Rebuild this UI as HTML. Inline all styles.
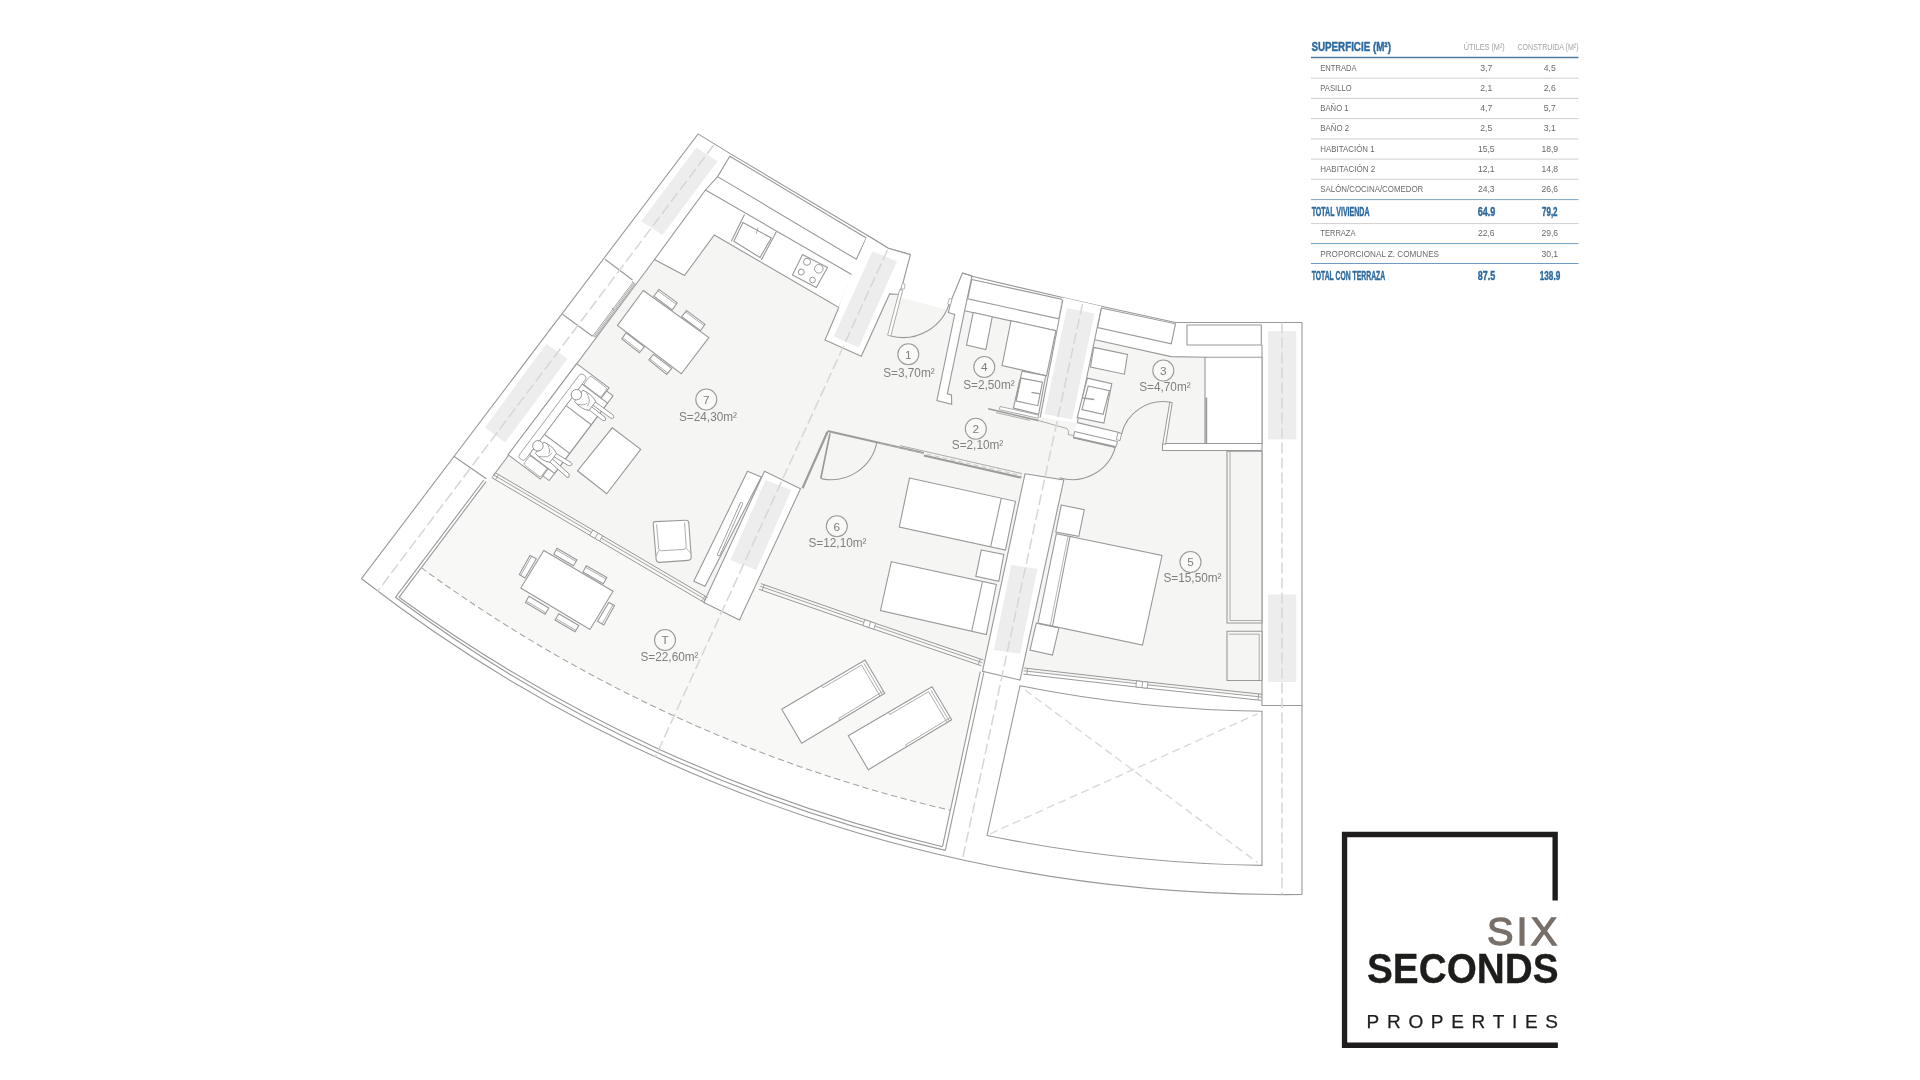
<!DOCTYPE html>
<html lang="es">
<head>
<meta charset="utf-8">
<title>Plano vivienda - Six Seconds Properties</title>
<style>
html,body{margin:0;padding:0;background:#fff;}
body{width:1920px;height:1080px;overflow:hidden;position:relative;font-family:"Liberation Sans",sans-serif;}
svg{position:absolute;left:0;top:0;display:block;will-change:transform;}
svg text{font-family:"Liberation Sans",sans-serif;}
</style>
</head>
<body>
<svg width="1920" height="1080" viewBox="0 0 1920 1080">
<g id="plan" stroke-linejoin="miter">
<polygon points="705.5,190.0 852.5,275.0 903.3,298.3 948.3,310.0 964.6,310.8 1056.0,330.8 1095.0,339.8 1171.0,356.6 1205.0,357.2 1262.0,357.2 1262.0,697.5 1141.3,684.3 1023.8,671.0 1020.0,680.0 982.5,671.3 982.5,661.5 868.8,622.8 760.0,585.0 706.3,600.0 493.8,475.0" fill="#f5f5f3" stroke="none" stroke-width="1.1" />
<path d="M493.8,475.0 L706.3,600.0 L760.0,585.0 L868.8,622.8 L982.5,661.5 L982.5,671.3 L980.3,671.7 L950.3,810.3 A1460.0,1460.0 0 0 1 421.2,567.7 L486.0,481.7 Z" fill="#f8f8f7" stroke="none" stroke-width="1.1" />
<polygon points="1162.5,443.5 1262.0,443.5 1262.0,450.5 1162.5,450.5" fill="#fff" stroke="none" stroke-width="1.1" />
<polyline points="361.5,578.7 698.1,133.9 730.6,153.9" fill="none" stroke="#999999" stroke-width="1.1" />
<polyline points="717.6,176.6 705.5,190.0" fill="none" stroke="#999999" stroke-width="1.1" />
<polyline points="654.5,259.5 493.8,475.0" fill="none" stroke="#999999" stroke-width="1.1" />
<polyline points="605.0,259.3 632.5,280.0" fill="none" stroke="#999999" stroke-width="1.1" />
<polyline points="562.5,314.3 592.5,336.3" fill="none" stroke="#999999" stroke-width="1.1" />
<polyline points="453.8,456.3 486.3,478.8" fill="none" stroke="#999999" stroke-width="1.1" />
<polyline points="633.0,282.1 593.0,335.8" fill="none" stroke="#999999" stroke-width="0.85" />
<polyline points="634.1,282.9 594.1,336.6" fill="none" stroke="#999999" stroke-width="0.85" />
<polyline points="635.1,283.6 595.1,337.3" fill="none" stroke="#999999" stroke-width="0.85" />
<polyline points="632.0,281.3 634.6,283.3" fill="none" stroke="#999999" stroke-width="0.7" />
<polyline points="592.0,335.0 594.6,337.0" fill="none" stroke="#999999" stroke-width="0.7" />
<polyline points="612.0,308.2 614.6,310.2" fill="none" stroke="#999999" stroke-width="0.7" />
<polygon points="696.3,147.5 717.5,161.3 662.5,235.0 641.3,221.3" fill="#ededed" stroke="none" stroke-width="1.1" />
<polygon points="546.3,343.8 567.5,358.8 505.0,442.5 485.0,427.5" fill="#ededed" stroke="none" stroke-width="1.1" />
<polyline points="730.6,153.9 866.8,235.0 888.3,248.3 910.4,254.6" fill="none" stroke="#999999" stroke-width="1.1" />
<polygon points="729.8,156.2 866.3,238.0 856.3,259.3 717.6,176.6" fill="#fff" stroke="#999999" stroke-width="1.1" />
<polygon points="705.5,190.0 852.5,275.0 838.8,307.5 714.3,235.0 684.5,275.5 654.5,259.5" fill="#fff" stroke="#999999" stroke-width="1.1" />
<polyline points="744.5,214.5 731.3,241.3" fill="none" stroke="#999999" stroke-width="1.1" />
<polyline points="776.3,231.8 761.3,260.0" fill="none" stroke="#999999" stroke-width="1.1" />
<polygon points="743.0,222.5 771.3,238.0 760.0,257.5 733.8,241.3" fill="#fff" stroke="#999999" stroke-width="1.1" />
<polyline points="758.0,227.5 756.3,233.8" fill="none" stroke="#999999" stroke-width="0.8" />
<polygon points="802.5,254.5 827.5,267.5 816.3,287.5 792.5,275.0" fill="#fff" stroke="#999999" stroke-width="1.1" />
<circle cx="807.0" cy="261.8" r="3.5" fill="none" stroke="#999999" stroke-width="1.0"/>
<circle cx="818.8" cy="268.8" r="4.3" fill="none" stroke="#999999" stroke-width="1.0"/>
<circle cx="801.3" cy="272.0" r="3.0" fill="none" stroke="#999999" stroke-width="1.0"/>
<circle cx="812.5" cy="280.0" r="2.8" fill="none" stroke="#999999" stroke-width="1.0"/>
<polygon points="866.3,238.0 866.8,235.0 888.3,248.3 910.4,254.6 902.4,285.0 899.6,294.5 889.6,293.9 861.3,356.3 825.0,340.0" fill="#fff" stroke="none" stroke-width="1.1" />
<polyline points="866.8,235.0 888.3,248.3 910.4,254.6 902.4,285.0 899.6,294.5 889.6,293.9 861.3,356.3 825.0,340.0 838.8,307.5" fill="none" stroke="#999999" stroke-width="1.1" />
<polygon points="872.5,251.3 897.0,261.3 858.8,347.5 833.8,336.3" fill="#ededed" stroke="none" stroke-width="1.1" />
<polygon points="899.7,289.5 902.7,290.3 890.8,336.0 887.6,335.2" fill="#fff" stroke="#999999" stroke-width="0.8" />
<path d="M890.8,336 A48.5,48.5 0 0 0 950,300.8" fill="none" stroke="#999999" stroke-width="1.1" />
<polygon points="902.5,283.3 905.0,284.2 904.2,289.2 900.8,288.7" fill="#fff" stroke="#999999" stroke-width="0.7" />
<polygon points="962.5,273.0 972.0,275.8 964.6,310.8 947.3,393.9 951.5,395.0 951.7,404.2 936.9,400.6 954.7,314.5 948.3,312.5 951.7,299.2" fill="#fff" stroke="#999999" stroke-width="1.1" />
<polygon points="949.2,298.5 952.0,299.3 950.5,305.0 947.7,304.2" fill="#fff" stroke="#999999" stroke-width="0.7" />
<polyline points="962.5,273.0 971.8,276.3 1062.5,297.5 1101.3,306.3 1175.5,322.5 1185.0,322.5 1302.0,322.5" fill="none" stroke="#999999" stroke-width="1.1" />
<polygon points="971.8,279.5 1062.5,299.5 1058.8,318.8 967.7,298.8" fill="#fff" stroke="#999999" stroke-width="1.1" />
<polygon points="1101.3,308.0 1175.5,323.8 1171.3,343.8 1097.5,327.5" fill="#fff" stroke="#999999" stroke-width="1.1" />
<polygon points="1187.0,325.0 1261.3,325.0 1261.3,345.0 1187.0,345.0" fill="#fff" stroke="#999999" stroke-width="1.1" />
<polyline points="964.6,310.8 1056.0,330.8" fill="none" stroke="#999999" stroke-width="1.1" />
<polyline points="1095.0,339.8 1171.0,356.6 1205.0,357.2" fill="none" stroke="#999999" stroke-width="1.1" />
<polyline points="1175.5,322.5 1171.0,356.6" fill="none" stroke="none" stroke-width="1.1" />
<polygon points="1062.5,297.5 1101.3,306.3 1077.2,423.0 1040.2,417.5" fill="#fff" stroke="none" stroke-width="1.1" />
<polyline points="1062.9,299.5 1040.2,417.5" fill="none" stroke="#999999" stroke-width="1.1" />
<polyline points="1101.3,308.0 1077.2,423.0" fill="none" stroke="#999999" stroke-width="1.1" />
<polygon points="1066.9,308.1 1094.5,313.5 1072.2,419.5 1044.6,414.0" fill="#ededed" stroke="none" stroke-width="1.1" />
<polyline points="1302.0,322.5 1302.0,894.5" fill="none" stroke="#999999" stroke-width="1.1" />
<polyline points="1262.0,345.0 1262.0,705.5 1302.0,705.5" fill="none" stroke="#999999" stroke-width="1.1" />
<polygon points="1268.0,331.3 1296.3,331.3 1296.3,439.5 1268.0,439.5" fill="#ededed" stroke="none" stroke-width="1.1" />
<polygon points="1268.0,594.5 1296.3,594.5 1296.3,682.0 1268.0,682.0" fill="#ededed" stroke="none" stroke-width="1.1" />
<polygon points="973.3,312.5 992.2,316.8 985.9,349.5 966.5,345.1" fill="#fff" stroke="#999999" stroke-width="1.1" />
<polygon points="1011.0,320.7 1055.9,330.6 1046.5,375.8 1002.1,365.5" fill="#fff" stroke="#999999" stroke-width="1.1" />
<polygon points="1022.1,371.1 1045.7,375.8 1038.6,414.3 1013.4,408.0" fill="#fff" stroke="#999999" stroke-width="1.1" />
<polygon points="1021.0,378.1 1042.5,382.1 1037.8,405.7 1016.2,401.0" fill="#fff" stroke="#999999" stroke-width="1.1" />
<polyline points="1031.5,392.3 1040.2,393.9" fill="none" stroke="#9c9c9c" stroke-width="1.3" />
<polyline points="1020.0,379.7 1015.8,400.2" fill="none" stroke="#9c9c9c" stroke-width="1.6" />
<polygon points="1000.0,406.5 1038.6,415.1 1038.0,418.2 999.3,409.6" fill="#fff" stroke="#999999" stroke-width="0.8" />
<polyline points="988.2,408.8 1038.6,420.6" fill="none" stroke="#9c9c9c" stroke-width="1.6" />
<polyline points="996.0,412.6 1030.0,420.4" fill="none" stroke="#999999" stroke-width="0.8" />
<polyline points="1038.6,420.6 1066.9,428.5 1068.7,431.3 1068.2,434.5 1073.5,435.5" fill="none" stroke="#999999" stroke-width="0.8" />
<polygon points="1093.7,347.4 1127.5,354.5 1124.4,374.2 1090.5,367.1" fill="#fff" stroke="#999999" stroke-width="1.1" />
<polygon points="1087.4,378.1 1111.8,383.6 1103.9,423.0 1077.2,417.5" fill="#fff" stroke="#999999" stroke-width="1.1" />
<polygon points="1088.2,386.0 1109.4,390.7 1103.1,414.3 1081.9,409.6" fill="#fff" stroke="#999999" stroke-width="1.1" />
<polyline points="1082.6,398.0 1094.4,399.5" fill="none" stroke="#9c9c9c" stroke-width="1.3" />
<polygon points="1077.4,422.6 1120.2,432.8 1117.8,441.5 1074.5,431.3" fill="#fff" stroke="none" stroke-width="1.1" />
<polyline points="1077.4,422.6 1120.2,432.8" fill="none" stroke="#999999" stroke-width="1.1" />
<polygon points="1117.9,432.6 1121.6,433.6 1120.0,440.6 1116.4,439.7" fill="#fff" stroke="#999999" stroke-width="0.9" />
<polygon points="1074.6,431.5 1117.6,441.6 1115.6,447.4 1073.4,437.8" fill="#fff" stroke="#999999" stroke-width="1.0" />
<polyline points="1073.2,437.4 1115.4,447.0" fill="none" stroke="#9c9c9c" stroke-width="1.8" />
<polygon points="1169.8,402.2 1172.2,402.7 1165.6,444.3 1162.8,443.9" fill="#fff" stroke="#999999" stroke-width="1.0" />
<path d="M1170.6,402.3 A42.8,42.8 0 0 0 1121.4,434.6" fill="none" stroke="#999999" stroke-width="1.1" />
<polyline points="1166.0,443.5 1262.0,443.5" fill="none" stroke="#999999" stroke-width="1.1" />
<polyline points="1162.5,443.5 1162.5,450.5 1262.0,450.5" fill="none" stroke="#999999" stroke-width="1.1" />
<polygon points="1205.0,357.2 1262.0,357.2 1262.0,443.5 1205.0,443.5" fill="#fff" stroke="#999999" stroke-width="1.1" />
<polyline points="1206.3,397.5 1206.3,443.5" fill="none" stroke="#9c9c9c" stroke-width="1.8" />
<path d="M1115.4,446.8 A44.5,44.5 0 0 1 1059.6,477.7" fill="none" stroke="#999999" stroke-width="1.1" />
<polyline points="1059.5,478.8 1059.0,481.5" fill="none" stroke="#999999" stroke-width="0.8" />
<polyline points="827.5,431.0 923.8,453.0" fill="none" stroke="#9c9c9c" stroke-width="2.1" />
<polyline points="923.8,455.6 1021.3,477.6" fill="none" stroke="#9c9c9c" stroke-width="2.1" />
<polyline points="900.0,445.6 1022.0,473.6" fill="none" stroke="#999999" stroke-width="0.8" />
<polyline points="880.0,443.5 1021.5,475.5" fill="none" stroke="#bdbdbd" stroke-width="0.8" stroke-dasharray="5 3"/>
<polyline points="827.5,431.7 802.5,488.3" fill="none" stroke="#9c9c9c" stroke-width="2.2" />
<polyline points="830.0,433.3 820.8,478.3" fill="none" stroke="#999999" stroke-width="1.7" />
<path d="M821.2,478.6 A46.5,46.5 0 0 0 876.7,443.2" fill="none" stroke="#999999" stroke-width="1.1" />
<polygon points="747.5,471.3 761.3,477.0 705.0,586.3 693.8,581.3" fill="#fff" stroke="#999999" stroke-width="1.1" />
<path d="M741.3,503.8 L718.8,554.5" fill="none" stroke="#999999" stroke-width="3.4" stroke-linecap="round"/>
<path d="M741.3,503.8 L718.8,554.5" fill="none" stroke="#fff" stroke-width="1.8" stroke-linecap="round"/>
<polygon points="764.5,471.3 800.5,488.8 739.5,620.0 703.8,602.5" fill="#fff" stroke="#999999" stroke-width="1.1" />
<polygon points="765.5,480.0 791.3,490.0 756.3,570.0 730.5,560.0" fill="#ededed" stroke="none" stroke-width="1.1" />
<polygon points="1025.0,473.8 1063.8,480.0 1020.0,680.0 982.5,671.3" fill="#fff" stroke="#999999" stroke-width="1.1" />
<polygon points="1011.3,565.0 1037.5,568.8 1020.0,653.8 993.8,650.0" fill="#ededed" stroke="none" stroke-width="1.1" />
<polyline points="495.2,472.6 707.7,597.6" fill="none" stroke="#999999" stroke-width="1.0" />
<polyline points="493.8,475.0 706.3,600.0" fill="none" stroke="#999999" stroke-width="0.9" />
<polyline points="492.1,477.8 704.6,602.8" fill="none" stroke="#999999" stroke-width="1.0" />
<polygon points="592.8,530.0 602.6,535.8 599.5,541.0 589.7,535.3" fill="#fff" stroke="#999999" stroke-width="0.9" />
<polyline points="598.1,533.1 595.0,538.3" fill="none" stroke="#999999" stroke-width="0.9" />
<polyline points="495.2,472.6 492.1,477.8" fill="none" stroke="#999999" stroke-width="0.9" />
<polyline points="498.6,474.6 495.5,479.8" fill="none" stroke="#999999" stroke-width="0.9" />
<polyline points="705.0,596.0 701.9,601.2" fill="none" stroke="#999999" stroke-width="0.9" />
<polyline points="760.9,583.6 869.7,621.4 983.4,660.0" fill="none" stroke="#999999" stroke-width="1.0" />
<polyline points="760.0,586.2 868.8,624.0 982.5,662.7" fill="none" stroke="#999999" stroke-width="0.9" />
<polyline points="758.9,589.3 867.7,627.1 981.4,665.8" fill="none" stroke="#999999" stroke-width="1.0" />
<polygon points="864.9,619.7 875.7,623.4 873.7,629.2 862.9,625.5" fill="#fff" stroke="#999999" stroke-width="0.9" />
<polyline points="870.7,621.7 868.7,627.4" fill="none" stroke="#999999" stroke-width="0.9" />
<polyline points="764.2,584.7 762.2,590.4" fill="none" stroke="#999999" stroke-width="0.9" />
<polyline points="980.2,659.0 978.2,664.7" fill="none" stroke="#999999" stroke-width="0.9" />
<polyline points="1024.1,668.0 1141.6,681.4 1262.3,694.3" fill="none" stroke="#999999" stroke-width="1.0" />
<polyline points="1023.8,670.8 1141.3,684.2 1262.0,697.1" fill="none" stroke="#999999" stroke-width="0.9" />
<polyline points="1023.4,674.1 1140.9,687.5 1261.6,700.4" fill="none" stroke="#999999" stroke-width="1.0" />
<polygon points="1136.5,680.9 1147.9,682.1 1147.2,688.2 1135.9,687.0" fill="#fff" stroke="#999999" stroke-width="0.9" />
<polyline points="1142.6,681.6 1141.9,687.6" fill="none" stroke="#999999" stroke-width="0.9" />
<polyline points="1027.5,668.4 1026.8,674.5" fill="none" stroke="#999999" stroke-width="0.9" />
<polyline points="1258.7,693.9 1258.0,700.0" fill="none" stroke="#999999" stroke-width="0.9" />
<polyline points="483.8,480.0 395.4,597.3" fill="none" stroke="#999999" stroke-width="1.1" />
<polyline points="486.0,481.7 399.0,597.3" fill="none" stroke="#999999" stroke-width="1.1" />
<path d="M395.4,597.3 A1469.1,1469.1 0 0 0 945.3,850.4" fill="none" stroke="#999999" stroke-width="1.1" />
<path d="M399.0,597.3 A1525.8,1525.8 0 0 0 942.5,846.7" fill="none" stroke="#999999" stroke-width="1.1" />
<polyline points="983.8,672.5 945.3,850.4" fill="none" stroke="#999999" stroke-width="1.1" />
<polyline points="980.3,671.7 942.5,846.7" fill="none" stroke="#999999" stroke-width="1.1" />
<path d="M361.5,578.7 A1507.8,1507.8 0 0 0 1302.0,894.5" fill="none" stroke="#999999" stroke-width="1.1" />
<path d="M421.2,567.7 A1460.0,1460.0 0 0 0 950.3,810.3" fill="none" stroke="#a4a4a4" stroke-width="1.05" stroke-dasharray="6.3 3.6"/>
<path d="M1020,685.8 A1323.0,1323.0 0 0 0 1262.0,711.3 L1262.0,865.4 A1477.0,1477.0 0 0 1 987,835.5 Z" fill="#fff" stroke="#999999" stroke-width="1.1" />
<polyline points="1025.0,690.0 1257.5,862.5" fill="none" stroke="#d9d9d9" stroke-width="1.4" stroke-dasharray="8 4.5"/>
<polyline points="990.0,833.8 1257.5,713.8" fill="none" stroke="#d9d9d9" stroke-width="1.4" stroke-dasharray="8 4.5"/>
<polyline points="713.8,145.0 377.3,591.7" fill="none" stroke="#d6d6d6" stroke-width="1.5" stroke-dasharray="11 4"/>
<polyline points="887.5,250.0 655.2,757.3" fill="none" stroke="#d6d6d6" stroke-width="1.5" stroke-dasharray="11 4"/>
<polyline points="1082.5,303.8 962.3,859.9" fill="none" stroke="#d6d6d6" stroke-width="1.5" stroke-dasharray="11 4"/>
<polyline points="1282.0,322.5 1282.0,894.6" fill="none" stroke="#d6d6d6" stroke-width="1.5" stroke-dasharray="11 4"/>
<polygon points="658.9,289.4 677.2,302.8 672.2,310.0 653.9,296.1" fill="#fff" stroke="#999999" stroke-width="1.1" />
<polyline points="657.9,290.8 676.2,304.3" fill="none" stroke="#999999" stroke-width="0.8" />
<polygon points="686.7,310.6 705.0,324.4 700.6,330.6 681.7,316.7" fill="#fff" stroke="#999999" stroke-width="1.1" />
<polyline points="685.6,311.9 704.1,325.7" fill="none" stroke="#999999" stroke-width="0.8" />
<polygon points="626.1,332.8 644.4,346.7 639.4,352.8 621.7,338.9" fill="#fff" stroke="#999999" stroke-width="1.1" />
<polyline points="640.5,351.5 622.6,337.6" fill="none" stroke="#999999" stroke-width="0.8" />
<polygon points="653.3,354.4 671.7,368.3 666.7,374.4 648.9,360.0" fill="#fff" stroke="#999999" stroke-width="1.1" />
<polyline points="667.8,373.1 649.8,358.8" fill="none" stroke="#999999" stroke-width="0.8" />
<polygon points="643.3,290.5 708.8,337.5 681.3,373.8 617.5,325.5" fill="#fff" stroke="#999999" stroke-width="1.1" />
<polygon points="587.1,376.4 613.0,395.9 549.2,480.6 523.3,461.1" fill="#fff" stroke="#999999" stroke-width="1.1" />
<polygon points="576.7,363.6 609.0,387.9 540.4,479.0 508.1,454.7" fill="#fff" stroke="#999999" stroke-width="1.1" />
<polyline points="582.2,384.0 601.1,398.3" fill="none" stroke="#999999" stroke-width="1.1" />
<polyline points="529.3,454.3 548.2,468.6" fill="none" stroke="#999999" stroke-width="1.1" />
<polygon points="582.2,384.0 607.5,403.1 554.6,473.4 529.3,454.3" fill="#fff" stroke="#999999" stroke-width="1.1" />
<polyline points="566.0,405.6 591.3,424.7" fill="none" stroke="#999999" stroke-width="1.1" />
<polyline points="544.3,434.3 569.6,453.4" fill="none" stroke="#999999" stroke-width="1.1" />
<path d="M579.2,375.2 L519.5,454.5 Q517.7,456.9 520.1,458.7 L521.5,459.7 Q523.9,461.5 525.7,459.1 L585.3,379.9 Q587.2,377.5 584.8,375.7 L583.4,374.7 Q581.0,372.8 579.2,375.2 Z" fill="#fff" stroke="#999999" stroke-width="0.9" />
<path d="M589.0,377.2 L584.8,382.8 Q583.6,384.4 585.2,385.6 L599.1,396.1 Q600.7,397.3 601.9,395.8 L606.1,390.2 Q607.3,388.6 605.8,387.4 L591.8,376.8 Q590.2,375.6 589.0,377.2 Z" fill="#fff" stroke="#999999" stroke-width="0.8" />
<path d="M528.8,457.1 L524.6,462.7 Q523.4,464.3 525.0,465.5 L539.0,476.0 Q540.6,477.2 541.8,475.6 L546.0,470.0 Q547.2,468.4 545.6,467.2 L531.6,456.7 Q530.0,455.5 528.8,457.1 Z" fill="#fff" stroke="#999999" stroke-width="0.8" />
<path d="M592.1,399.6 L613.1,415.0 Q615.2,418.9 610.7,418.2 L589.7,402.8" fill="#fff" stroke="#858585" stroke-width="0.85" />
<path d="M588.5,404.4 L605.1,417.3 Q607.0,421.5 602.7,420.5 L586.1,407.6" fill="#fff" stroke="#858585" stroke-width="0.85" />
<path d="M582.9,390.2 Q592.4,394.2 595.6,401.6 L589.0,410.4 Q581.0,409.4 574.5,401.4 Z" fill="#fff" stroke="#858585" stroke-width="0.85" />
<path d="M586.4,392.2 Q592.0,401.4 587.0,406.4 M577.4,404.2 Q584.8,406.0 587.2,402.8" fill="none" stroke="#858585" stroke-width="0.7" />
<circle cx="576.4" cy="394.7" r="5.2" fill="#fff" stroke="#858585" stroke-width="0.9"/>
<path d="M547.0,459.5 L566.5,476.9 Q570.1,478.8 568.9,473.7 L549.4,456.3" fill="#fff" stroke="#858585" stroke-width="0.85" />
<path d="M550.6,454.7 L568.6,465.7 Q573.9,465.4 571.0,462.5 L553.0,451.5" fill="#fff" stroke="#858585" stroke-width="0.85" />
<path d="M535.4,453.3 Q541.9,461.3 549.9,462.3 L556.5,453.6 Q553.3,446.1 543.8,442.1 Z" fill="#fff" stroke="#858585" stroke-width="0.85" />
<path d="M538.3,456.1 Q548.7,458.9 552.1,452.7 M547.3,444.1 Q551.1,450.7 548.7,453.9" fill="none" stroke="#858585" stroke-width="0.7" />
<circle cx="537.9" cy="445.8" r="5.2" fill="#fff" stroke="#858585" stroke-width="0.9"/>
<polygon points="612.2,427.8 640.7,449.3 606.7,493.8 577.5,470.8" fill="#fff" stroke="#999999" stroke-width="1.1" />
<path d="M653.3,524.5 Q652.5,521.8 655.5,521.6 L685.5,520.3 Q688.6,520.2 688.8,523 L691.2,556.5 Q691.4,560.2 688,560.4 L660,562.4 Q656.6,562.6 656.2,559.5 Z" fill="#fff" stroke="#999999" stroke-width="1.1" />
<path d="M656.6,524.3 L658.7,548.5 Q659,551 661.5,550.8 L684,549.3 Q686.4,549 686.2,546.6 L684.6,522.6" fill="none" stroke="#999999" stroke-width="0.8" />
<path d="M658.9,550.5 L656,556 M686.3,548.6 L690.8,553" fill="none" stroke="#999999" stroke-width="0.8" />
<polygon points="557.0,548.3 577.0,560.0 573.3,565.8 553.8,554.3" fill="#fff" stroke="#999999" stroke-width="1.1" />
<polyline points="556.2,549.8 576.1,561.4" fill="none" stroke="#999999" stroke-width="0.8" />
<polygon points="586.3,565.8 606.8,577.5 603.3,583.8 583.0,572.0" fill="#fff" stroke="#999999" stroke-width="1.1" />
<polyline points="585.5,567.3 606.0,579.0" fill="none" stroke="#999999" stroke-width="0.8" />
<polygon points="528.8,596.3 548.8,608.0 545.0,614.3 525.5,602.5" fill="#fff" stroke="#999999" stroke-width="1.1" />
<polyline points="545.9,612.8 526.3,601.1" fill="none" stroke="#999999" stroke-width="0.8" />
<polygon points="558.8,613.8 578.8,625.5 575.0,631.8 555.0,620.0" fill="#fff" stroke="#999999" stroke-width="1.1" />
<polyline points="575.9,630.3 555.9,618.6" fill="none" stroke="#999999" stroke-width="0.8" />
<polygon points="530.0,555.5 536.3,558.8 525.0,578.0 519.3,574.5" fill="#fff" stroke="#999999" stroke-width="1.1" />
<polyline points="520.7,575.4 531.6,556.3" fill="none" stroke="#999999" stroke-width="0.8" />
<polygon points="608.8,602.5 614.5,605.5 603.8,625.0 597.5,621.3" fill="#fff" stroke="#999999" stroke-width="1.1" />
<polyline points="613.0,604.7 602.1,624.0" fill="none" stroke="#999999" stroke-width="0.8" />
<polygon points="543.8,550.5 613.0,591.3 590.0,629.5 520.8,588.0" fill="#fff" stroke="#999999" stroke-width="1.1" />
<polygon points="781.7,709.2 865.0,660.0 884.7,693.3 801.7,743.3" fill="#fff" stroke="#999999" stroke-width="1.1" />
<polyline points="864.0,663.6 882.4,694.7" fill="none" stroke="#999999" stroke-width="0.8" />
<polyline points="861.6,665.0 880.0,696.1" fill="none" stroke="#999999" stroke-width="0.8" />
<polyline points="821.7,685.6 823.0,687.8 861.6,665.0" fill="none" stroke="#999999" stroke-width="0.8" />
<polyline points="840.0,720.7 838.7,718.4 883.4,691.1" fill="none" stroke="#999999" stroke-width="0.8" />
<polygon points="848.3,735.8 932.0,686.7 951.7,719.7 868.3,769.7" fill="#fff" stroke="#999999" stroke-width="1.1" />
<polyline points="931.0,690.3 949.4,721.1" fill="none" stroke="#999999" stroke-width="0.8" />
<polyline points="928.6,691.7 947.0,722.5" fill="none" stroke="#999999" stroke-width="0.8" />
<polyline points="888.5,712.2 889.8,714.5 928.6,691.7" fill="none" stroke="#999999" stroke-width="0.8" />
<polyline points="906.8,747.1 905.5,744.9 950.4,717.5" fill="none" stroke="#999999" stroke-width="0.8" />
<polygon points="909.5,478.0 1015.5,501.3 1005.5,550.0 899.3,527.0" fill="#fff" stroke="#999999" stroke-width="1.1" />
<polyline points="1001.3,498.2 990.6,546.8" fill="none" stroke="#999999" stroke-width="1.1" />
<polygon points="981.3,550.0 1003.8,554.5 998.8,581.3 975.8,576.3" fill="#fff" stroke="#999999" stroke-width="1.1" />
<polygon points="891.3,561.8 996.3,584.5 986.3,634.5 880.5,610.5" fill="#fff" stroke="#999999" stroke-width="1.1" />
<polyline points="982.5,581.5 971.7,631.2" fill="none" stroke="#999999" stroke-width="1.1" />
<polygon points="1061.3,505.0 1084.3,509.8 1078.8,536.3 1055.8,532.0" fill="#fff" stroke="#999999" stroke-width="1.1" />
<polygon points="1036.3,623.2 1058.8,628.0 1052.5,655.0 1030.0,650.0" fill="#fff" stroke="#999999" stroke-width="1.1" />
<polygon points="1056.3,533.8 1072.5,537.0 1053.8,626.3 1038.0,623.0" fill="#fff" stroke="#999999" stroke-width="1.1" />
<polygon points="1070.0,536.5 1162.0,555.5 1142.5,645.0 1052.5,626.0" fill="#fff" stroke="#999999" stroke-width="1.1" />
<polyline points="1068.0,536.1 1050.2,625.5" fill="none" stroke="#999999" stroke-width="0.7" />
<polygon points="1227.0,451.3 1262.0,451.3 1262.0,623.0 1227.0,623.0" fill="#f5f5f3" stroke="#999999" stroke-width="1.1" />
<polyline points="1230.0,451.3 1230.0,620.5 1262.0,620.5" fill="none" stroke="#999999" stroke-width="0.8" />
<polygon points="1227.0,631.3 1262.0,631.3 1262.0,680.5 1227.0,680.5" fill="#f5f5f3" stroke="#999999" stroke-width="1.1" />
<polyline points="1228.8,634.2 1259.2,634.2 1259.2,680.5" fill="none" stroke="#999999" stroke-width="0.8" />
<circle cx="908.3" cy="354.3" r="10.5" fill="#f9f9f8" stroke="#9a9a9a" stroke-width="1.1"/>
<text x="908.3" y="358.6" text-anchor="middle" font-size="11.8" fill="#7f7f7f">1</text>
<text x="883.2" y="376.8" font-size="12.2" fill="#7f7f7f" textLength="51.5" lengthAdjust="spacingAndGlyphs">S=3,70m²</text>
<circle cx="984.3" cy="367.0" r="10.5" fill="#f9f9f8" stroke="#9a9a9a" stroke-width="1.1"/>
<text x="984.3" y="371.3" text-anchor="middle" font-size="11.8" fill="#7f7f7f">4</text>
<text x="963.2" y="389.3" font-size="12.2" fill="#7f7f7f" textLength="51.5" lengthAdjust="spacingAndGlyphs">S=2,50m²</text>
<circle cx="1163.3" cy="370.5" r="10.5" fill="#f9f9f8" stroke="#9a9a9a" stroke-width="1.1"/>
<text x="1163.3" y="374.8" text-anchor="middle" font-size="11.8" fill="#7f7f7f">3</text>
<text x="1139.2" y="390.6" font-size="12.2" fill="#7f7f7f" textLength="51.5" lengthAdjust="spacingAndGlyphs">S=4,70m²</text>
<circle cx="975.8" cy="428.8" r="10.5" fill="#f9f9f8" stroke="#9a9a9a" stroke-width="1.1"/>
<text x="975.8" y="433.1" text-anchor="middle" font-size="11.8" fill="#7f7f7f">2</text>
<text x="951.8" y="449.3" font-size="12.2" fill="#7f7f7f" textLength="51.5" lengthAdjust="spacingAndGlyphs">S=2,10m²</text>
<circle cx="706.3" cy="399.5" r="10.5" fill="#f9f9f8" stroke="#9a9a9a" stroke-width="1.1"/>
<text x="706.3" y="403.8" text-anchor="middle" font-size="11.8" fill="#7f7f7f">7</text>
<text x="679.0" y="421.3" font-size="12.2" fill="#7f7f7f" textLength="58.0" lengthAdjust="spacingAndGlyphs">S=24,30m²</text>
<circle cx="836.8" cy="526.3" r="10.5" fill="#f9f9f8" stroke="#9a9a9a" stroke-width="1.1"/>
<text x="836.8" y="530.6" text-anchor="middle" font-size="11.8" fill="#7f7f7f">6</text>
<text x="808.5" y="546.8" font-size="12.2" fill="#7f7f7f" textLength="58.0" lengthAdjust="spacingAndGlyphs">S=12,10m²</text>
<circle cx="1190.5" cy="562.0" r="10.5" fill="#f9f9f8" stroke="#9a9a9a" stroke-width="1.1"/>
<text x="1190.5" y="566.3" text-anchor="middle" font-size="11.8" fill="#7f7f7f">5</text>
<text x="1163.5" y="582.3" font-size="12.2" fill="#7f7f7f" textLength="58.0" lengthAdjust="spacingAndGlyphs">S=15,50m²</text>
<circle cx="665.0" cy="640.0" r="10.5" fill="#f9f9f8" stroke="#9a9a9a" stroke-width="1.1"/>
<text x="665.0" y="644.3" text-anchor="middle" font-size="11.8" fill="#7f7f7f">T</text>
<text x="640.5" y="661.3" font-size="12.2" fill="#7f7f7f" textLength="58.0" lengthAdjust="spacingAndGlyphs">S=22,60m²</text>
</g>
<g id="table">
<text x="1311.4" y="50.7" font-size="13.5" fill="#2c699e" text-anchor="start" font-weight="bold" textLength="79.5" lengthAdjust="spacingAndGlyphs" stroke="#2c699e" stroke-width="0.45">SUPERFICIE (M²)</text>
<text x="1463.8" y="50.3" font-size="9.8" fill="#a3a3a3" text-anchor="start" font-weight="normal" textLength="41" lengthAdjust="spacingAndGlyphs" >ÚTILES (M²)</text>
<text x="1517.5" y="50.3" font-size="9.8" fill="#a3a3a3" text-anchor="start" font-weight="normal" textLength="61" lengthAdjust="spacingAndGlyphs" >CONSTRUIDA (M²)</text>
<line x1="1311" y1="57.5" x2="1578.5" y2="57.5" stroke="#4f7b9e" stroke-width="1.4"/>
<text x="1320.3" y="70.5" font-size="8.6" fill="#6a6a6a" text-anchor="start" font-weight="normal" textLength="36.3" lengthAdjust="spacingAndGlyphs" >ENTRADA</text>
<text x="1486.3" y="70.5" font-size="8.6" fill="#6a6a6a" text-anchor="middle" font-weight="normal" >3,7</text>
<text x="1549.8" y="70.5" font-size="8.6" fill="#6a6a6a" text-anchor="middle" font-weight="normal" >4,5</text>
<line x1="1311" y1="78.2" x2="1578.5" y2="78.2" stroke="#cfcfcf" stroke-width="1"/>
<text x="1320.3" y="90.8" font-size="8.6" fill="#6a6a6a" text-anchor="start" font-weight="normal" textLength="31.3" lengthAdjust="spacingAndGlyphs" >PASILLO</text>
<text x="1486.3" y="90.8" font-size="8.6" fill="#6a6a6a" text-anchor="middle" font-weight="normal" >2,1</text>
<text x="1549.8" y="90.8" font-size="8.6" fill="#6a6a6a" text-anchor="middle" font-weight="normal" >2,6</text>
<line x1="1311" y1="98.4" x2="1578.5" y2="98.4" stroke="#cfcfcf" stroke-width="1"/>
<text x="1320.3" y="111.0" font-size="8.6" fill="#6a6a6a" text-anchor="start" font-weight="normal" textLength="28.3" lengthAdjust="spacingAndGlyphs" >BAÑO 1</text>
<text x="1486.3" y="111.0" font-size="8.6" fill="#6a6a6a" text-anchor="middle" font-weight="normal" >4,7</text>
<text x="1549.8" y="111.0" font-size="8.6" fill="#6a6a6a" text-anchor="middle" font-weight="normal" >5,7</text>
<line x1="1311" y1="118.6" x2="1578.5" y2="118.6" stroke="#cfcfcf" stroke-width="1"/>
<text x="1320.3" y="131.3" font-size="8.6" fill="#6a6a6a" text-anchor="start" font-weight="normal" textLength="28.8" lengthAdjust="spacingAndGlyphs" >BAÑO 2</text>
<text x="1486.3" y="131.3" font-size="8.6" fill="#6a6a6a" text-anchor="middle" font-weight="normal" >2,5</text>
<text x="1549.8" y="131.3" font-size="8.6" fill="#6a6a6a" text-anchor="middle" font-weight="normal" >3,1</text>
<line x1="1311" y1="138.9" x2="1578.5" y2="138.9" stroke="#cfcfcf" stroke-width="1"/>
<text x="1320.3" y="151.6" font-size="8.6" fill="#6a6a6a" text-anchor="start" font-weight="normal" textLength="54.3" lengthAdjust="spacingAndGlyphs" >HABITACIÓN 1</text>
<text x="1486.3" y="151.6" font-size="8.6" fill="#6a6a6a" text-anchor="middle" font-weight="normal" >15,5</text>
<text x="1549.8" y="151.6" font-size="8.6" fill="#6a6a6a" text-anchor="middle" font-weight="normal" >18,9</text>
<line x1="1311" y1="159.1" x2="1578.5" y2="159.1" stroke="#cfcfcf" stroke-width="1"/>
<text x="1320.3" y="171.8" font-size="8.6" fill="#6a6a6a" text-anchor="start" font-weight="normal" textLength="54.8" lengthAdjust="spacingAndGlyphs" >HABITACIÓN 2</text>
<text x="1486.3" y="171.8" font-size="8.6" fill="#6a6a6a" text-anchor="middle" font-weight="normal" >12,1</text>
<text x="1549.8" y="171.8" font-size="8.6" fill="#6a6a6a" text-anchor="middle" font-weight="normal" >14,8</text>
<line x1="1311" y1="179.3" x2="1578.5" y2="179.3" stroke="#cfcfcf" stroke-width="1"/>
<text x="1320.3" y="192.1" font-size="8.6" fill="#6a6a6a" text-anchor="start" font-weight="normal" textLength="103" lengthAdjust="spacingAndGlyphs" >SALÓN/COCINA/COMEDOR</text>
<text x="1486.3" y="192.1" font-size="8.6" fill="#6a6a6a" text-anchor="middle" font-weight="normal" >24,3</text>
<text x="1549.8" y="192.1" font-size="8.6" fill="#6a6a6a" text-anchor="middle" font-weight="normal" >26,6</text>
<line x1="1311" y1="199.6" x2="1578.5" y2="199.6" stroke="#7fa6c6" stroke-width="1"/>
<text x="1311.7" y="215.9" font-size="12.2" fill="#2c699e" text-anchor="start" font-weight="bold" textLength="57.8" lengthAdjust="spacingAndGlyphs" stroke="#2c699e" stroke-width="0.4">TOTAL VIVIENDA</text>
<text x="1486.4" y="215.9" font-size="12.2" fill="#2c699e" text-anchor="middle" font-weight="bold" textLength="17.5" lengthAdjust="spacingAndGlyphs" stroke="#2c699e" stroke-width="0.4">64.9</text>
<text x="1549.8" y="215.9" font-size="12.2" fill="#2c699e" text-anchor="middle" font-weight="bold" textLength="15.5" lengthAdjust="spacingAndGlyphs" stroke="#2c699e" stroke-width="0.4">79,2</text>
<line x1="1311" y1="223.6" x2="1578.5" y2="223.6" stroke="#cfcfcf" stroke-width="1"/>
<text x="1320.3" y="236.4" font-size="8.6" fill="#6a6a6a" text-anchor="start" font-weight="normal" textLength="35.2" lengthAdjust="spacingAndGlyphs" >TERRAZA</text>
<text x="1486.3" y="236.4" font-size="8.6" fill="#6a6a6a" text-anchor="middle" font-weight="normal" >22,6</text>
<text x="1549.8" y="236.4" font-size="8.6" fill="#6a6a6a" text-anchor="middle" font-weight="normal" >29,6</text>
<line x1="1311" y1="243.6" x2="1578.5" y2="243.6" stroke="#6f9cc0" stroke-width="1"/>
<text x="1320.3" y="256.7" font-size="8.6" fill="#6a6a6a" text-anchor="start" font-weight="normal" textLength="118.7" lengthAdjust="spacingAndGlyphs" >PROPORCIONAL Z. COMUNES</text>
<text x="1549.8" y="256.7" font-size="8.6" fill="#6a6a6a" text-anchor="middle" font-weight="normal" >30,1</text>
<line x1="1311" y1="263.5" x2="1578.5" y2="263.5" stroke="#6f9cc0" stroke-width="1"/>
<text x="1311.7" y="280.0" font-size="12.2" fill="#2c699e" text-anchor="start" font-weight="bold" textLength="73.5" lengthAdjust="spacingAndGlyphs" stroke="#2c699e" stroke-width="0.4">TOTAL CON TERRAZA</text>
<text x="1486.4" y="280.0" font-size="12.2" fill="#2c699e" text-anchor="middle" font-weight="bold" textLength="17.5" lengthAdjust="spacingAndGlyphs" stroke="#2c699e" stroke-width="0.4">87.5</text>
<text x="1550.0" y="280.0" font-size="12.2" fill="#2c699e" text-anchor="middle" font-weight="bold" textLength="20.5" lengthAdjust="spacingAndGlyphs" stroke="#2c699e" stroke-width="0.4">138.9</text>
</g>
<g id="logo">
<path d="M1555.15,900.4 V834.45 H1344.55 V1045.2 H1557.85" fill="none" stroke="#1e1c1c" stroke-width="5.35" stroke-linecap="butt" stroke-linejoin="miter"/>
<text x="1486.9" y="945.0" font-size="39.7" fill="#776f68" stroke="#776f68" stroke-width="1.3" stroke-linejoin="miter" textLength="70.4" lengthAdjust="spacing">SIX</text>
<text x="1367.0" y="982.8" font-size="42.6" fill="#1d1d1b" font-weight="bold" stroke="#1d1d1b" stroke-width="0.3" textLength="191.6" lengthAdjust="spacingAndGlyphs">SECONDS</text>
<text x="1366.6" y="1027.5" font-size="19" fill="#1d1d1b" stroke="#1d1d1b" stroke-width="0.25" textLength="191.4" lengthAdjust="spacing">PROPERTIES</text>
</g>
</svg>
</body>
</html>
